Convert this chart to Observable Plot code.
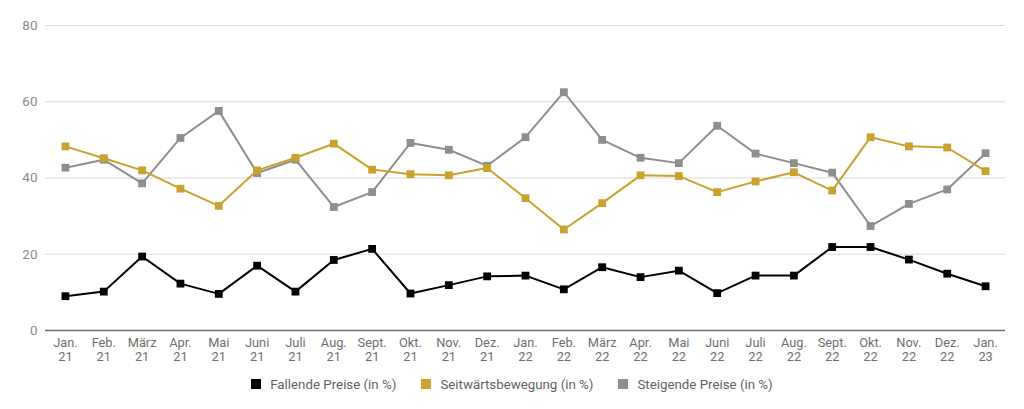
<!DOCTYPE html>
<html>
<head>
<meta charset="utf-8">
<script src="https://cdn.jsdelivr.net/npm/d3@7"></script>
<script src="https://cdn.jsdelivr.net/npm/@observablehq/plot@0.6"></script>
<style>
  html, body { margin: 0; padding: 0; background: #fff; }
  body { width: 1024px; height: 409px; overflow: hidden; font-family: Roboto, sans-serif; }
  #legend { display: flex; justify-content: center; align-items: center; gap: 25px; height: 28px; font-size: 13.3px; color: #5f5f5f; margin-left: 0px; }
  #legend .item { display: flex; align-items: center; gap: 9px; }
  #legend .sw { width: 10px; height: 10px; display: inline-block; }
</style>
</head>
<body>
<div id="chart"></div>
<div id="legend"></div>
<script>
const months = ["Jan.\n21","Feb.\n21","März\n21","Apr.\n21","Mai\n21","Juni\n21","Juli\n21","Aug.\n21","Sept.\n21","Okt.\n21","Nov.\n21","Dez.\n21",
                "Jan.\n22","Feb.\n22","März\n22","Apr.\n22","Mai\n22","Juni\n22","Juli\n22","Aug.\n22","Sept.\n22","Okt.\n22","Nov.\n22","Dez.\n22","Jan.\n23"];
const fallende = [9.0,10.2,19.4,12.3,9.6,17.0,10.2,18.5,21.4,9.7,11.9,14.2,14.4,10.8,16.6,14.0,15.7,9.8,14.4,14.4,21.9,21.9,18.6,14.9,11.6];
const seitwaerts = [48.3,45.2,42.0,37.2,32.7,42.0,45.3,49.0,42.2,41.0,40.7,42.6,34.7,26.5,33.4,40.7,40.5,36.3,39.1,41.5,36.7,50.7,48.3,48.0,41.8];
const steigende = [42.7,44.8,38.6,50.5,57.6,41.3,44.8,32.4,36.3,49.2,47.4,43.2,50.7,62.5,50.0,45.3,43.9,53.7,46.4,43.9,41.4,27.4,33.2,37.0,46.5];
const seriesNames = ["Fallende Preise (in %)","Seitwärtsbewegung (in %)","Steigende Preise (in %)"];
const seriesColors = ["#000000","#c9a22f","#8e8e8e"];
const yTicks = [0,20,40,60,80];

const seriesValues = [fallende, seitwaerts, steigende];
const data = [];
seriesNames.forEach((name, si) => {
  seriesValues[si].forEach((v, i) => data.push({series: name, month: months[i], value: v}));
});

const drawOrder = [2,1,0].map(i => seriesNames[i]);

const plot = Plot.plot({
  width: 1024,
  height: 370,
  marginTop: 25,
  marginBottom: 40,
  marginLeft: 45,
  marginRight: 19,
  style: {fontFamily: "Roboto, sans-serif", fontSize: "12.5px", color: "#757575", background: "#fff"},
  x: {type: "point", domain: months, padding: 0.52, round: false, label: null},
  y: {domain: [0, 80], ticks: yTicks, label: null},
  color: {domain: seriesNames, range: seriesColors},
  marks: [
    Plot.gridY(yTicks.filter(t => t > 0), {stroke: "#d9d9d9", strokeOpacity: 1, strokeWidth: 1}),
    Plot.ruleY([0], {stroke: "#6e6e6e", strokeWidth: 1.6}),
    Plot.axisY({ticks: yTicks, tickSize: 0, tickPadding: 8, fontSize: 13.5, fill: "#8a8a8a", label: null}),
    Plot.axisX({tickSize: 0, tickPadding: 6, fontSize: 12.8, fill: "#6f6f6f", label: null, lineHeight: 1.12}),
    ...drawOrder.map(name => Plot.line(data.filter(d => d.series === name), {x: "month", y: "value", stroke: "series", strokeWidth: 2})),
    ...drawOrder.map(name => Plot.dot(data.filter(d => d.series === name), {x: "month", y: "value", fill: "series", symbol: "square", r: 4.4, stroke: "none"}))
  ]
});
document.getElementById("chart").appendChild(plot);

const legend = document.getElementById("legend");
seriesNames.forEach((n, i) => {
  const item = document.createElement("div");
  item.className = "item";
  const sw = document.createElement("span");
  sw.className = "sw";
  sw.style.background = seriesColors[i];
  const t = document.createElement("span");
  t.textContent = n;
  item.appendChild(sw); item.appendChild(t);
  legend.appendChild(item);
});
</script>
</body>
</html>
